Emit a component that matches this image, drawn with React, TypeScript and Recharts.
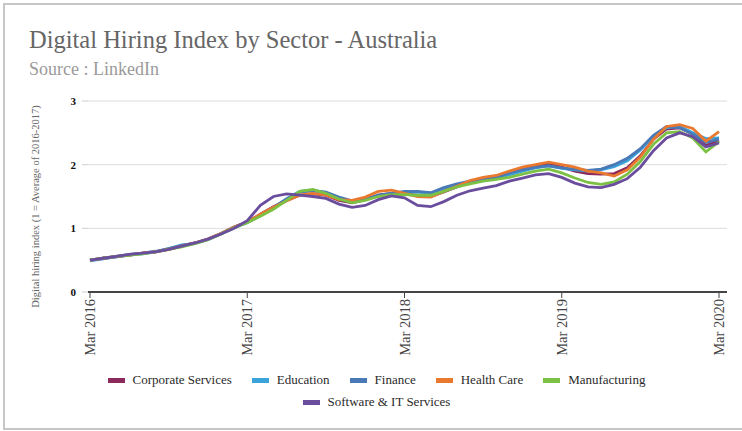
import { LineChart, Line, XAxis, YAxis, CartesianGrid, Legend } from "recharts";

const months = [
  "Mar 2016", "Apr 2016", "May 2016", "Jun 2016", "Jul 2016", "Aug 2016", "Sep 2016", "Oct 2016", "Nov 2016", "Dec 2016",
  "Jan 2017", "Feb 2017", "Mar 2017", "Apr 2017", "May 2017", "Jun 2017", "Jul 2017", "Aug 2017", "Sep 2017", "Oct 2017", "Nov 2017", "Dec 2017",
  "Jan 2018", "Feb 2018", "Mar 2018", "Apr 2018", "May 2018", "Jun 2018", "Jul 2018", "Aug 2018", "Sep 2018", "Oct 2018", "Nov 2018", "Dec 2018",
  "Jan 2019", "Feb 2019", "Mar 2019", "Apr 2019", "May 2019", "Jun 2019", "Jul 2019", "Aug 2019", "Sep 2019", "Oct 2019", "Nov 2019", "Dec 2019",
  "Jan 2020", "Feb 2020", "Mar 2020",
];

const xTicks = ["Mar 2016", "Mar 2017", "Mar 2018", "Mar 2019", "Mar 2020"];
const yTicks = [0, 1, 2, 3];

const corporateServices = [
  0.50, 0.53, 0.55, 0.58, 0.61, 0.63, 0.67, 0.72, 0.77, 0.83, 0.92, 1.02, 1.10,
  1.22, 1.34, 1.44, 1.52, 1.54, 1.52, 1.44, 1.40, 1.45, 1.52, 1.55, 1.54,
  1.52, 1.50, 1.57, 1.65, 1.73, 1.78, 1.82, 1.88, 1.94, 1.98, 2.01, 1.96,
  1.90, 1.86, 1.85, 1.86, 1.95, 2.14, 2.40, 2.56, 2.58, 2.48, 2.30, 2.38,
];
const education = [
  0.49, 0.52, 0.55, 0.58, 0.60, 0.63, 0.68, 0.74, 0.76, 0.82, 0.91, 1.01, 1.09,
  1.20, 1.32, 1.46, 1.58, 1.60, 1.56, 1.48, 1.42, 1.45, 1.51, 1.54, 1.57,
  1.57, 1.55, 1.62, 1.68, 1.72, 1.75, 1.78, 1.84, 1.90, 1.95, 1.98, 1.94,
  1.92, 1.90, 1.92, 1.97, 2.06, 2.23, 2.45, 2.58, 2.60, 2.50, 2.41, 2.42,
];
const finance = [
  0.50, 0.53, 0.56, 0.59, 0.61, 0.64, 0.68, 0.73, 0.77, 0.83, 0.92, 1.02, 1.10,
  1.21, 1.33, 1.46, 1.57, 1.59, 1.57, 1.49, 1.43, 1.46, 1.52, 1.55, 1.58,
  1.58, 1.56, 1.64, 1.70, 1.74, 1.77, 1.80, 1.87, 1.92, 1.96, 1.98, 1.95,
  1.93, 1.91, 1.93, 2.00, 2.10, 2.25, 2.46, 2.60, 2.58, 2.48, 2.35, 2.40,
];
const healthCare = [
  0.50, 0.53, 0.56, 0.58, 0.61, 0.63, 0.67, 0.72, 0.77, 0.83, 0.92, 1.02, 1.10,
  1.22, 1.33, 1.43, 1.52, 1.55, 1.52, 1.45, 1.44, 1.49, 1.58, 1.60, 1.55,
  1.50, 1.49, 1.58, 1.66, 1.75, 1.80, 1.83, 1.90, 1.96, 2.00, 2.04, 2.00,
  1.96, 1.90, 1.87, 1.82, 1.92, 2.12, 2.40, 2.60, 2.63, 2.57, 2.37, 2.52,
];
const manufacturing = [
  0.50, 0.53, 0.56, 0.58, 0.60, 0.63, 0.67, 0.71, 0.76, 0.82, 0.91, 1.01, 1.09,
  1.19, 1.30, 1.44, 1.58, 1.61, 1.55, 1.46, 1.40, 1.44, 1.50, 1.53, 1.53,
  1.52, 1.52, 1.58, 1.65, 1.70, 1.74, 1.77, 1.80, 1.85, 1.90, 1.93, 1.87,
  1.79, 1.72, 1.69, 1.73, 1.85, 2.05, 2.32, 2.50, 2.52, 2.42, 2.20, 2.36,
];
const softwareIT = [
  0.50, 0.53, 0.56, 0.59, 0.61, 0.63, 0.67, 0.72, 0.77, 0.83, 0.91, 1.00, 1.12,
  1.36, 1.50, 1.54, 1.52, 1.50, 1.47, 1.38, 1.33, 1.36, 1.45, 1.51, 1.48,
  1.36, 1.34, 1.42, 1.52, 1.59, 1.63, 1.67, 1.74, 1.79, 1.84, 1.86, 1.80,
  1.71, 1.65, 1.64, 1.69, 1.78, 1.96, 2.22, 2.42, 2.50, 2.44, 2.28, 2.34,
];

const series = [
  { key: "corporate", name: "Corporate Services", values: corporateServices, color: "#8c2a5c" },
  { key: "education", name: "Education", values: education, color: "#3aa3d9" },
  { key: "finance", name: "Finance", values: finance, color: "#4a79b8" },
  { key: "health", name: "Health Care", values: healthCare, color: "#e8792f" },
  { key: "manufacturing", name: "Manufacturing", values: manufacturing, color: "#7cc144" },
  { key: "software", name: "Software & IT Services", values: softwareIT, color: "#6b4d9e" },
];

const data = months.map((month, i) => {
  const row: any = { month };
  series.forEach((s) => (row[s.key] = s.values[i]));
  return row;
});

const serif = '"Liberation Serif", "Times New Roman", serif';
const yAxisTitle = "Digital hiring index (1 = Average of 2016-2017)";

const XTick = ({ x, y, payload }: any) => (
  <text
    x={x}
    y={y - 1}
    transform={`rotate(-90 ${x} ${y - 1})`}
    textAnchor="end"
    dominantBaseline="central"
    fill="#444"
    fontSize={14.5}
    fontFamily={serif}
  >
    {payload.value}
  </text>
);

const renderYTitle = (props: any) => {
  const vb = props.viewBox ?? { y: 101, height: 191 };
  const cx = 35;
  const cy = vb.y + vb.height / 2 + 10;
  return (
    <text
      x={cx}
      y={cy}
      transform={`rotate(-90 ${cx} ${cy})`}
      textAnchor="middle"
      dominantBaseline="central"
      fill="#666"
      fontSize={10.5}
      fontFamily={serif}
    >
      {yAxisTitle}
    </text>
  );
};

const renderLegend = (props: any) => {
  const items = [...(props.payload ?? [])].sort(
    (a: any, b: any) =>
      series.findIndex((s) => s.name === a.value) - series.findIndex((s) => s.name === b.value)
  );
  const rows = [items.slice(0, 5), items.slice(5)];
  return (
    <div>
      {rows.map((row, r) => (
        <div key={r} style={{ display: "flex", justifyContent: "center", alignItems: "center", height: 22 }}>
          {row.map((it: any) => (
            <div key={it.value} style={{ display: "flex", alignItems: "center", margin: "0 10px" }}>
              <span style={{ display: "inline-block", width: 17, height: 5, background: it.color, marginRight: 8 }} />
              <span style={{ fontSize: 13, color: "#2a2a2a", fontFamily: serif }}>{it.value}</span>
            </div>
          ))}
        </div>
      ))}
    </div>
  );
};

export default function App() {
  return (
    <div style={{ position: "absolute", left: 0, top: 0, width: 742, height: 431, background: "#fff", overflow: "hidden", fontFamily: serif }}>
      <div style={{ position: "absolute", left: 3, top: 3, width: 800, height: 423, border: "2px solid #c6c6c6" }} />
      <div style={{ position: "absolute", left: 29, top: 28, fontSize: 24.5, lineHeight: 1, color: "#666", whiteSpace: "nowrap" }}>
        Digital Hiring Index by Sector - Australia
      </div>
      <div style={{ position: "absolute", left: 29, top: 60, fontSize: 18, lineHeight: 1, color: "#9a9a9a", whiteSpace: "nowrap" }}>
        Source : LinkedIn
      </div>
      <div style={{ position: "absolute", left: 0, top: 0 }}>
        <LineChart width={742} height={431} data={data} margin={{ top: 101, right: 15, bottom: 69, left: 0 }}>
          <CartesianGrid vertical={false} stroke="#dcdcdc" />
          <XAxis
            dataKey="month"
            ticks={xTicks}
            interval={0}
            height={70}
            padding={{ left: 2, right: 8 }}
            axisLine={{ stroke: "#444", strokeWidth: 2 }}
            tickLine={{ stroke: "#444" }}
            tickSize={6}
            tick={<XTick />}
          />
          <YAxis
            width={88}
            domain={[0, 3]}
            ticks={yTicks}
            axisLine={false}
            tickLine={{ stroke: "#cfcfcf" }}
            tickSize={6}
            tickMargin={6}
            tick={{ fill: "#111", fontSize: 11, fontWeight: "bold", fontFamily: serif }}
            label={{ value: yAxisTitle, content: renderYTitle }}
          />
          <Legend
            layout="horizontal"
            verticalAlign="middle"
            align="center"
            content={renderLegend}
            wrapperStyle={{ top: 369, left: 0, width: 753, bottom: "auto" }}
          />
          {series.map((s) => (
            <Line
              key={s.key}
              type="linear"
              dataKey={s.key}
              name={s.name}
              stroke={s.color}
              strokeWidth={2.8}
              dot={false}
              activeDot={false}
              isAnimationActive={false}
            />
          ))}
        </LineChart>
      </div>
    </div>
  );
}
